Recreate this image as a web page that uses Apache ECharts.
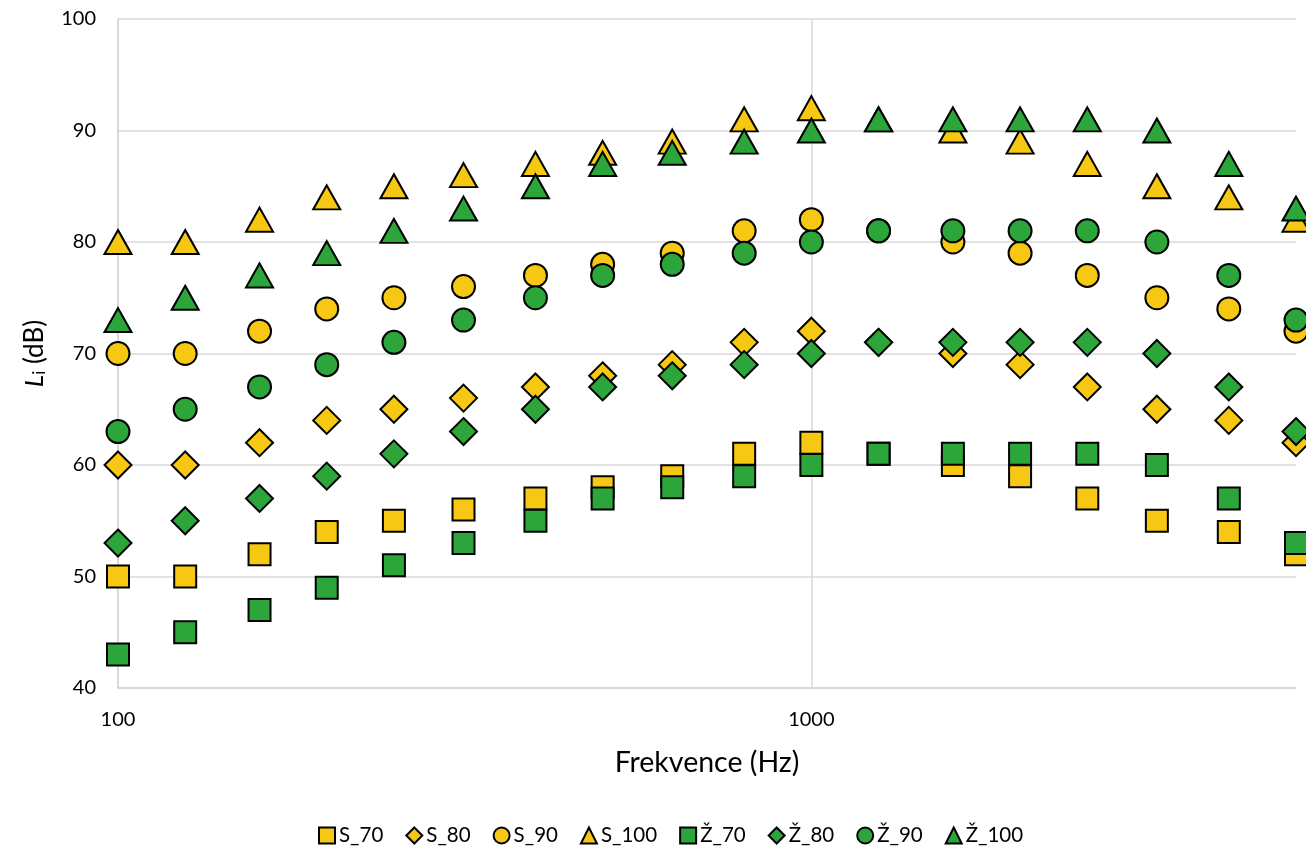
<!DOCTYPE html>
<html>
<head>
<meta charset="utf-8">
<script src="https://cdn.jsdelivr.net/npm/echarts@6/dist/echarts.min.js"></script>
<style>
  html, body { margin: 0; padding: 0; background: #fff; }
  #chart { width: 1306px; height: 850px; }
</style>
</head>
<body>
<div id="chart"></div>
<script>
// Third-octave band centre frequencies (Hz)
const frequencies = [100, 125, 160, 200, 250, 315, 400, 500, 630, 800, 1000, 1250, 1600, 2000, 2500, 3150, 4000, 5000];

// Band levels L_i (dB)
const S_70  = [50, 50, 52, 54, 55, 56, 57, 58, 59, 61, 62, 61, 60, 59, 57, 55, 54, 52];
const S_80  = [60, 60, 62, 64, 65, 66, 67, 68, 69, 71, 72, 71, 70, 69, 67, 65, 64, 62];
const S_90  = [70, 70, 72, 74, 75, 76, 77, 78, 79, 81, 82, 81, 80, 79, 77, 75, 74, 72];
const S_100 = [80, 80, 82, 84, 85, 86, 87, 88, 89, 91, 92, 91, 90, 89, 87, 85, 84, 82];
const Z_70  = [43, 45, 47, 49, 51, 53, 55, 57, 58, 59, 60, 61, 61, 61, 61, 60, 57, 53];
const Z_80  = [53, 55, 57, 59, 61, 63, 65, 67, 68, 69, 70, 71, 71, 71, 71, 70, 67, 63];
const Z_90  = [63, 65, 67, 69, 71, 73, 75, 77, 78, 79, 80, 81, 81, 81, 81, 80, 77, 73];
const Z_100 = [73, 75, 77, 79, 81, 83, 85, 87, 88, 89, 90, 91, 91, 91, 91, 90, 87, 83];

const xTickLabels = [100, 1000];

const YELLOW = '#F6C813';
const GREEN = '#2CA63A';
const FONT = 'Lato, "Open Sans", sans-serif';

const symbolSizes = {
  rect: [22, 22],
  diamond: [27, 27],
  circle: [23, 23],
  triangle: [27, 24]
};

function makeSeries(name, values, color, symbol) {
  return {
    name: name,
    type: 'scatter',
    symbol: symbol,
    symbolSize: symbolSizes[symbol],
    data: frequencies.map((f, i) => [f, values[i]]),
    itemStyle: { color: color, opacity: 1, borderColor: '#000', borderWidth: 2 },
    emphasis: { disabled: true }
  };
}

const chart = echarts.init(document.getElementById('chart'), null, { renderer: 'canvas' });

chart.setOption({
  animation: false,
  backgroundColor: '#fff',
  grid: { left: 118, right: 10, top: 19, bottom: 162, containLabel: false },
  xAxis: {
    type: 'log',
    logBase: 10,
    min: 100,
    max: 5000,
    name: 'Frekvence (Hz)',
    nameLocation: 'middle',
    nameGap: 60,
    nameTextStyle: { fontFamily: FONT, fontSize: 28.5, color: '#000' },
    axisLine: { show: true, lineStyle: { color: '#d4d4d4', width: 1.5 } },
    axisTick: { show: false },
    axisLabel: {
      fontFamily: FONT, fontSize: 20, color: '#000', margin: 22,
      showMaxLabel: false,
      formatter: v => (xTickLabels.includes(Math.round(v)) ? String(Math.round(v)) : '')
    },
    splitLine: { show: true, showMaxLine: false, lineStyle: { color: '#d9d9d9', width: 1.5 } }
  },
  yAxis: {
    type: 'value',
    min: 40,
    max: 100,
    interval: 10,
    name: '{it|L}{sub|i} (dB)',
    nameLocation: 'middle',
    nameGap: 70,
    nameRotate: 90,
    nameTextStyle: {
      fontFamily: FONT, fontSize: 26, color: '#000',
      rich: {
        it: { fontFamily: FONT, fontSize: 26, fontStyle: 'italic', color: '#000' },
        sub: { fontFamily: FONT, fontSize: 17, color: '#000', verticalAlign: 'bottom', padding: [10, 0, 0, 0] }
      }
    },
    axisLine: { show: true, lineStyle: { color: '#d4d4d4', width: 1.5 } },
    axisTick: { show: false },
    axisLabel: { fontFamily: FONT, fontSize: 20, color: '#000', margin: 22 },
    splitLine: { show: true, lineStyle: { color: '#d9d9d9', width: 1.5 } }
  },
  legend: {
    top: 825,
    left: 318,
    padding: 0,
    itemWidth: 16,
    itemHeight: 16,
    itemGap: 22,
    textStyle: { fontFamily: FONT, fontSize: 20.5, color: '#000', padding: [0, 0, 0, -1] },
    data: ['S_70', 'S_80', 'S_90', 'S_100', 'Ž_70', 'Ž_80', 'Ž_90', 'Ž_100']
  },
  series: [
    makeSeries('S_70', S_70, YELLOW, 'rect'),
    makeSeries('S_80', S_80, YELLOW, 'diamond'),
    makeSeries('S_90', S_90, YELLOW, 'circle'),
    makeSeries('S_100', S_100, YELLOW, 'triangle'),
    makeSeries('Ž_70', Z_70, GREEN, 'rect'),
    makeSeries('Ž_80', Z_80, GREEN, 'diamond'),
    makeSeries('Ž_90', Z_90, GREEN, 'circle'),
    makeSeries('Ž_100', Z_100, GREEN, 'triangle')
  ]
});
</script>
</body>
</html>
